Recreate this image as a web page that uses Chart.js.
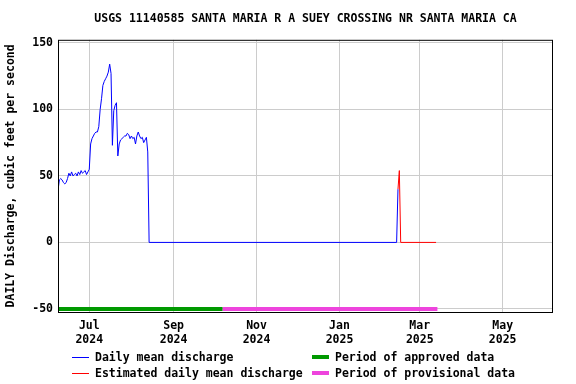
<!DOCTYPE html>
<html>
<head>
<meta charset="utf-8">
<script src="https://cdn.jsdelivr.net/npm/chart.js@4/dist/chart.umd.min.js"></script>
<style>
  html, body { margin: 0; padding: 0; background: #fff; }
  #wrap { position: relative; width: 576px; height: 384px; }
  #legend { position: absolute; left: 0; top: 0; width: 576px; height: 384px; pointer-events: none;
    font: bold 11.5px "DejaVu Sans Mono", monospace; color: #000; }
  .item { position: absolute; height: 16px; line-height: 16px; white-space: pre; padding-left: 23px; }
  .swatch { position: absolute; left: 0; width: 17px; }
</style>
</head>
<body>
<div id="wrap">
  <canvas id="flowChart" width="576" height="384"></canvas>
  <div id="legend"></div>
</div>
<script>
'use strict';

// Data

var dailyStart = '2024-06-08';
var dailyFlow = [
  39, 47, 48, 47, 45, 44, 45, 48, 52, 50, 53, 50, 51, 52, 50, 53, 51, 54, 52, 53, 54, 51, 53,
  55, 74, 78, 80, 82, 83, 83, 87, 100, 108, 118, 121, 123, 125, 128, 134, 127, 73, 99, 103,
  105, 65, 74, 77, 78, 79, 80, 80, 82, 81, 78, 80, 78, 79, 74, 80, 83, 80, 78, 79, 75, 77,
  79, 68, 0
];
var laterDates = ['2025-02-12', '2025-02-13'];
var laterFlow = [0, 40];
var estDates = ['2025-02-13', '2025-02-14', '2025-02-15', '2025-03-13'];
var estFlow = [40, 54, 0, 0];

var approvedPeriod = ['2024-06-08', '2024-10-07'];
var provisionalPeriod = ['2024-10-07', '2025-03-14'];
var periodLevel = -50;

var xRange = ['2024-06-08', '2025-06-07'];
var monthTicks = ['2024-07-01', '2024-09-01', '2024-11-01', '2025-01-01', '2025-03-01', '2025-05-01'];
var monthLabels = [['Jul', '2024'], ['Sep', '2024'], ['Nov', '2024'], ['Jan', '2025'], ['Mar', '2025'], ['May', '2025']];
var yTicks = [-50, 0, 50, 100, 150];

var titleText = 'USGS 11140585 SANTA MARIA R A SUEY CROSSING NR SANTA MARIA CA';
var yTitle = 'DAILY Discharge, cubic feet per second';

// helpers

function toDay(d) {
  return (Date.parse(d) - Date.parse('2024-07-01')) / 86400000;
}

function pairs(dates, values) {
  return dates.map(function (d, i) { return { x: toDay(d), y: values[i] }; });
}

var startDay = toDay(dailyStart);
var blueData = dailyFlow.map(function (v, i) { return { x: startDay + i, y: v }; })
  .concat(pairs(laterDates, laterFlow));
var redData = pairs(estDates, estFlow);
var greenData = approvedPeriod.map(function (d) { return { x: toDay(d), y: periodLevel }; });
var pinkData = provisionalPeriod.map(function (d) { return { x: toDay(d), y: periodLevel }; });

var font = { family: '"DejaVu Sans Mono", monospace', size: 11.5, weight: 'bold', lineHeight: 1.2 };

var framePlugin = {
  id: 'frame',
  afterDraw: function (chart) {
    var a = chart.chartArea;
    var ctx = chart.ctx;
    ctx.save();
    ctx.strokeStyle = '#000';
    ctx.lineWidth = 1;
    ctx.strokeRect(a.left + 0.5, a.top + 0.5, a.right - a.left - 1, a.bottom - a.top);
    ctx.restore();
  }
};

function lineSet(label, data, color, width) {
  return {
    label: label,
    data: data,
    borderColor: color,
    backgroundColor: color,
    borderWidth: width,
    pointRadius: 0,
    tension: 0,
    fill: false
  };
}

var ctx = document.getElementById('flowChart').getContext('2d');
var flowChart = new Chart(ctx, {
  type: 'line',
  data: {
    datasets: [
      lineSet('Period of approved data', greenData, '#009900', 4),
      lineSet('Period of provisional data', pinkData, '#ee44dd', 4),
      lineSet('Daily mean discharge', blueData, '#0000ff', 1),
      lineSet('Estimated daily mean discharge', redData, '#ff0000', 1)
    ]
  },
  options: {
    responsive: false,
    animation: false,
    layout: { padding: { left: 0, right: 23, top: 0, bottom: 0 } },
    plugins: {
      legend: { display: false },
      tooltip: { enabled: false },
      title: {
        display: true,
        text: titleText,
        fullSize: false,
        color: '#000',
        font: font,
        padding: { top: 12, bottom: 14 }
      }
    },
    scales: {
      x: {
        type: 'linear',
        min: toDay(xRange[0]),
        max: toDay(xRange[1]),
        afterBuildTicks: function (scale) {
          scale.ticks = monthTicks.map(function (d) { return { value: toDay(d) }; });
        },
        afterFit: function (scale) { scale.height = 72; },
        ticks: {
          autoSkip: false,
          maxRotation: 0,
          padding: 7,
          color: '#000',
          font: font,
          callback: function (value, i) { return monthLabels[i]; }
        },
        grid: { color: '#cccccc', lineWidth: 1, drawTicks: false },
        border: { display: false }
      },
      y: {
        type: 'linear',
        min: -52.3,
        max: 152.3,
        afterBuildTicks: function (scale) {
          scale.ticks = yTicks.map(function (v) { return { value: v }; });
        },
        afterFit: function (scale) { scale.width = 58; },
        ticks: { padding: 5, color: '#000', font: font },
        grid: { color: '#cccccc', lineWidth: 1, drawTicks: false },
        border: { display: false },
        title: {
          display: true,
          text: yTitle,
          color: '#000',
          font: font,
          padding: { top: 4, bottom: 0 }
        }
      }
    }
  },
  plugins: [framePlugin]
});

// Legend below the plot, two columns

var legendItems = [
  { label: 'Daily mean discharge', color: '#0000ff', thick: 1, left: 72, top: 349 },
  { label: 'Estimated daily mean discharge', color: '#ff0000', thick: 1, left: 72, top: 365 },
  { label: 'Period of approved data', color: '#009900', thick: 4, left: 312, top: 349 },
  { label: 'Period of provisional data', color: '#ee44dd', thick: 4, left: 312, top: 365 }
];

var legend = document.getElementById('legend');
legendItems.forEach(function (it) {
  var div = document.createElement('div');
  div.className = 'item';
  div.style.left = it.left + 'px';
  div.style.top = it.top + 'px';
  var sw = document.createElement('span');
  sw.className = 'swatch';
  sw.style.top = (8 - Math.floor(it.thick / 2)) + 'px';
  sw.style.height = it.thick + 'px';
  sw.style.background = it.color;
  div.appendChild(sw);
  div.appendChild(document.createTextNode(it.label));
  legend.appendChild(div);
});
</script>
</body>
</html>
